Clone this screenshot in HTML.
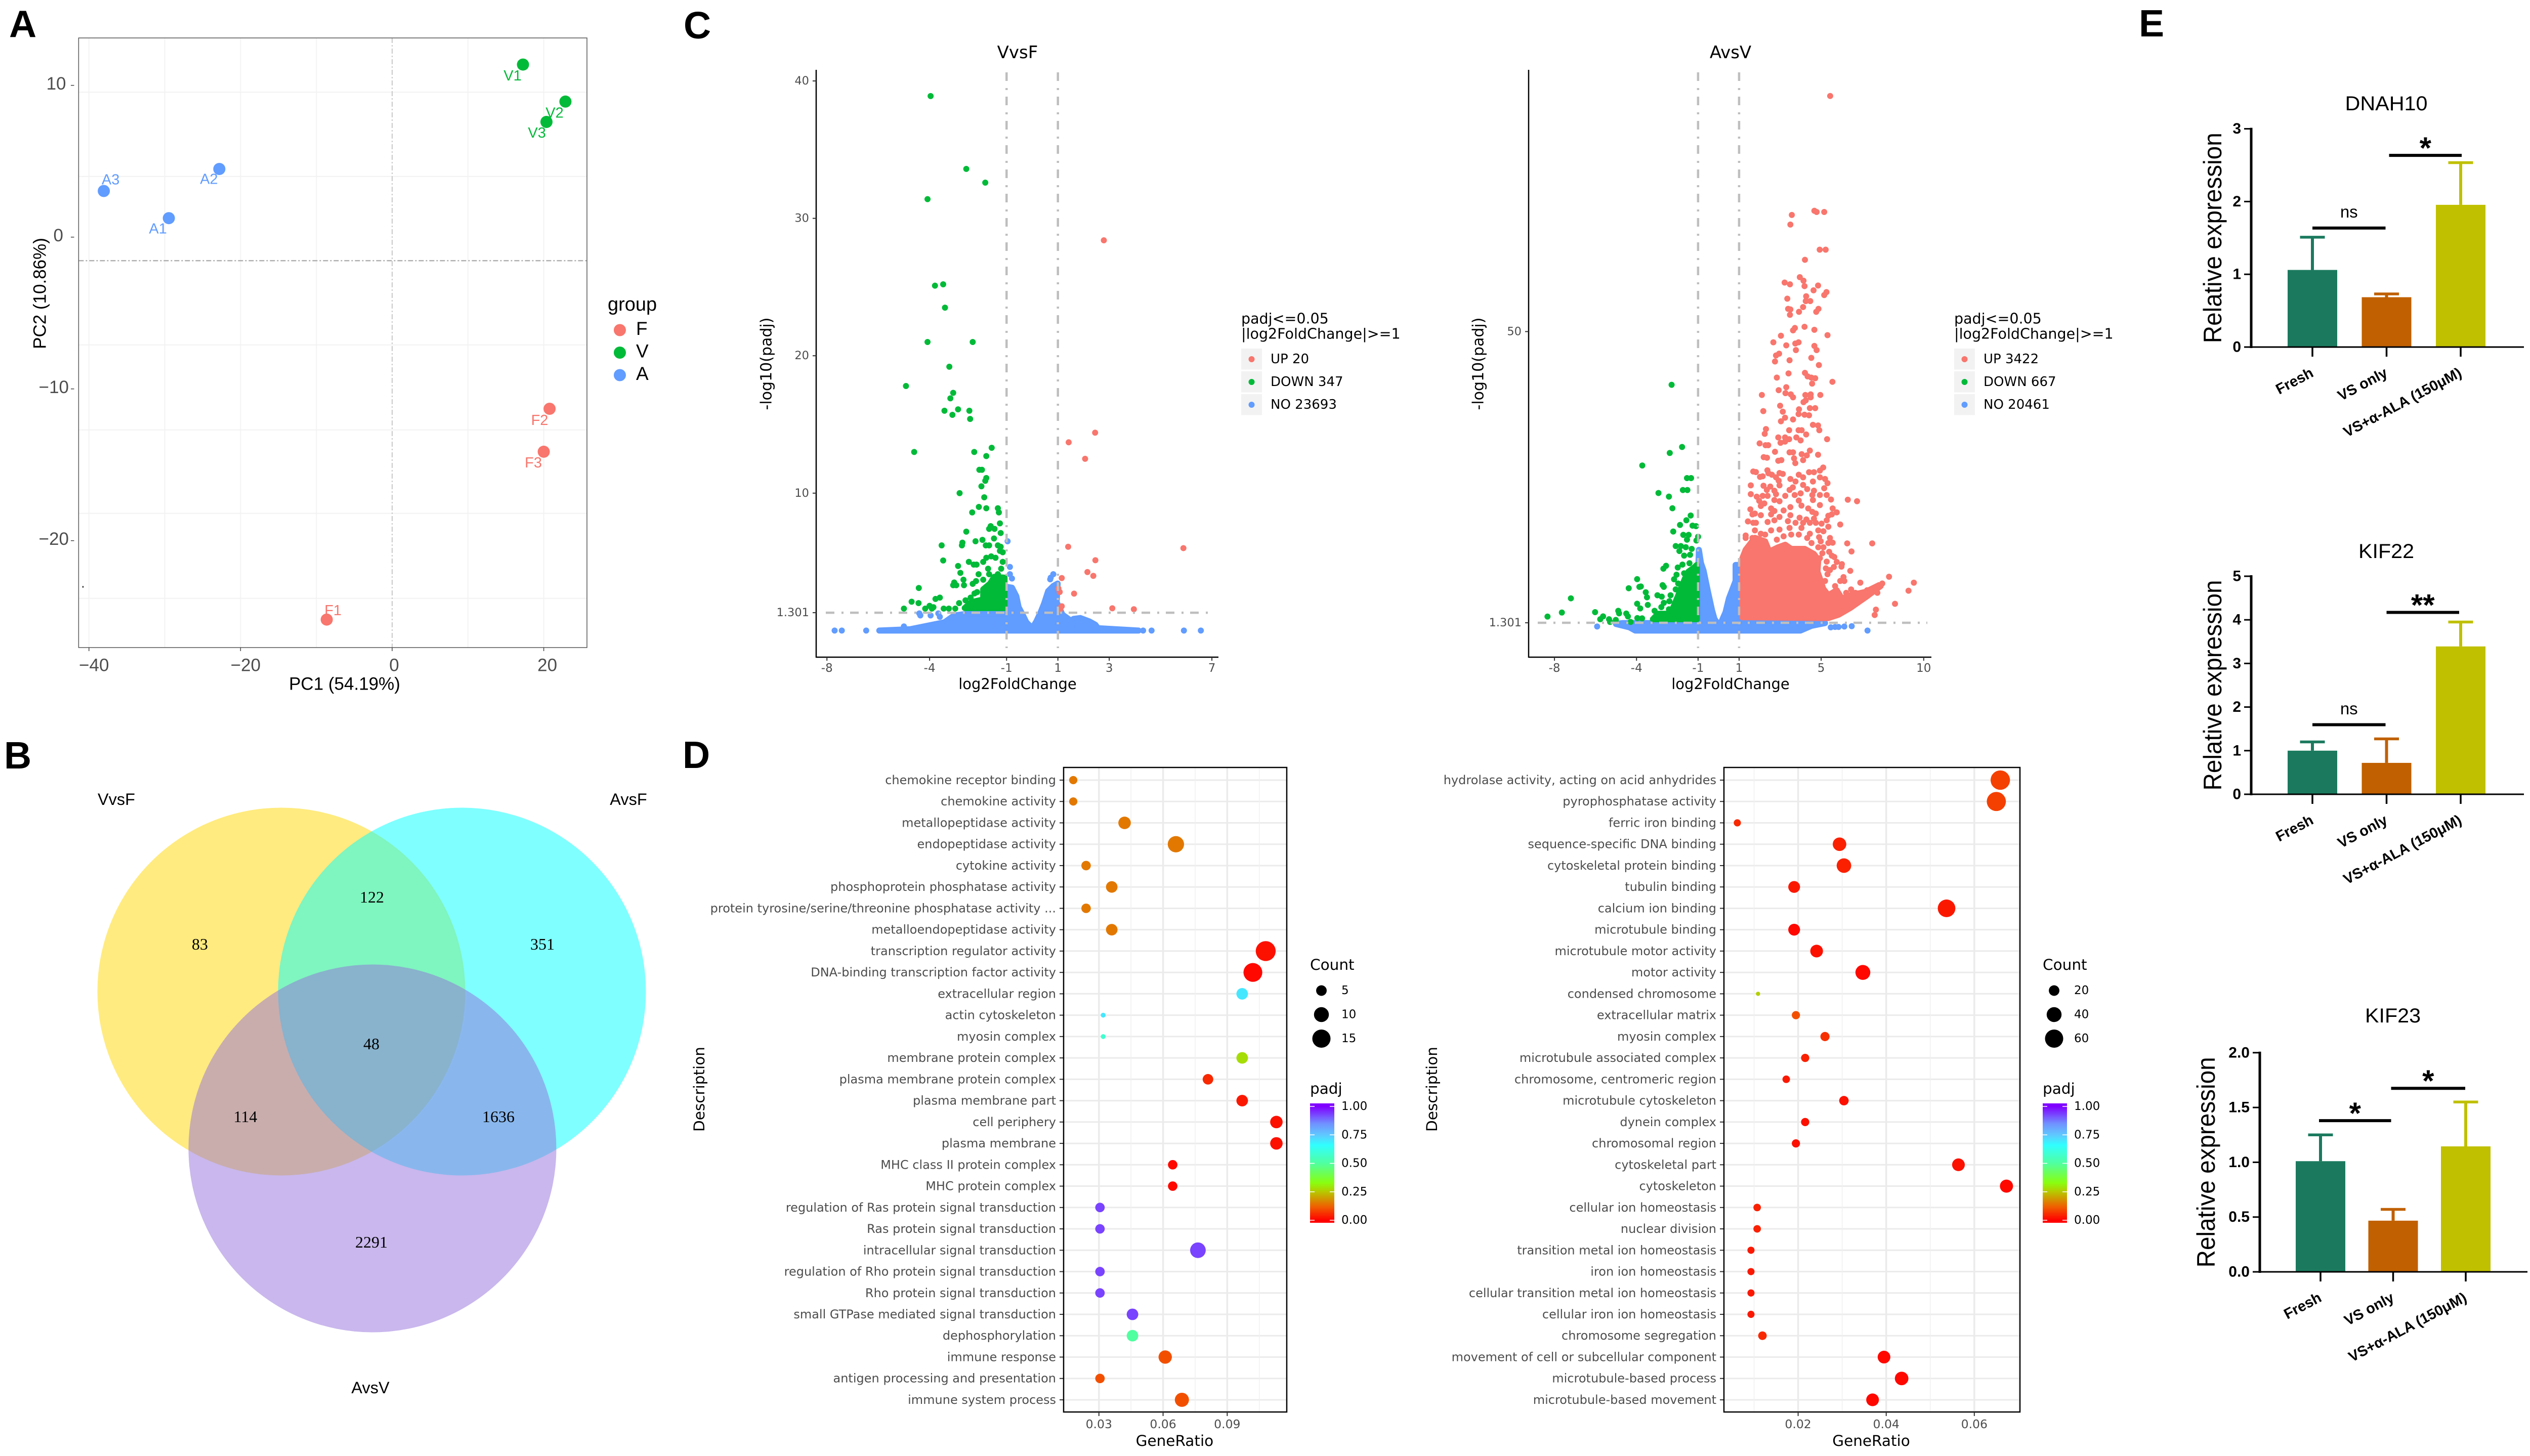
<!DOCTYPE html>
<html lang="en">
<head>
<meta charset="utf-8">
<title>Transcriptome analysis figure</title>
<style>
html,body{margin:0;padding:0;background:#fff;}
svg{display:block;}
</style>
</head>
<body>
<svg id="figure" xmlns="http://www.w3.org/2000/svg" width="5012" height="2878" viewBox="0 0 5012 2878">
<rect x="0" y="0" width="5012" height="2878" fill="#ffffff"></rect>
<defs id="defs"></defs>
</svg>
<script>
/* ---------- Panel A: PCA ---------- */
const pcaNames = ['F1','F2','F3','V1','V2','V3','A1','A2','A3'];
const pcaGroups = ['F','F','F','V','V','V','A','A','A'];
const pcaPc1 = [-8.63,20.77,20.0,17.26,22.86,20.36,-29.46,-22.8,-38.04];
const pcaPc2 = [-25.2,-11.31,-14.14,11.37,8.93,7.59,1.25,4.49,3.04];
const pcaLabelPc1 = [-7.8,19.46,18.63,15.89,21.43,19.1,-30.9,-24.17,-37.14];
const pcaLabelPc2 = [-24.61,-12.08,-14.88,10.63,8.18,6.85,0.54,3.81,3.78];
const pcaXTicks = [-40,-20,0,20];
const pcaYTicks = [10,0,-10,-20];
const pcaXGrid = [-40,-30,-20,-10,10,20];
const pcaYGrid = [9.55,4.0,-7.1,-12.7,-18.2,-23.8];
const pcaLegend = ['F','V','A'];

/* ---------- Panel B: Venn ---------- */
const vennSets = ['VvsF','AvsF','AvsV'];
const vennCounts = ['83','122','351','48','114','1636','2291'];

/* ---------- Panel C: volcano VvsF ---------- */
const volcano1Up = [[2.79,28.4],[2.45,14.4],[1.42,13.7],[2.06,12.5],[5.89,6.0],[1.40,6.1],[2.46,5.12],[2.15,4.26],[2.38,3.98],[1.15,3.82],[1.02,3.06],[1.07,2.81],[1.63,2.69],[1.15,1.77],[1.12,1.7],[1.08,1.52],[3.12,1.62],[3.96,1.55]];
const volcano1UpDense = [];
const volcano1Down = [[-3.96,38.9],[-2.57,33.6],[-1.83,32.6],[-4.08,31.4],[-3.79,25.1],[-3.47,25.2],[-3.40,23.5],[-4.08,21.0],[-2.32,21.0],[-3.23,19.2],[-4.92,17.8],[-3.08,17.3],[-3.19,16.9],[-3.42,16.0],[-2.89,16.1],[-2.45,16.0],[-3.11,15.7],[-2.42,15.4],[-4.60,13.0],[-2.26,13.0],[-1.58,13.3],[-1.79,12.7],[-2.06,11.7],[-1.96,11.7],[-1.79,11.1],[-1.83,10.9],[-1.98,10.5],[-2.83,10.0],[-1.87,9.7],[-2.08,9.0],[-2.34,8.6],[-1.79,8.9],[-1.34,8.9],[-1.30,8.6],[-1.26,7.8],[-1.62,7.6],[-1.68,7.4],[-1.47,7.4],[-1.23,7.1],[-2.57,7.2],[-1.49,6.7],[-1.94,6.6],[-2.21,6.5],[-2.72,6.4],[-2.74,6.2],[-3.53,6.2],[-1.81,6.2],[-1.68,6.2],[-1.34,6.2],[-1.23,6.1],[-1.26,5.8],[-1.15,5.7],[-3.47,5.1],[-1.60,5.4],[-1.43,5.3],[-1.79,5.3],[-1.91,5.0],[-2.47,5.0],[-2.28,4.8],[-2.17,4.8],[-2.89,4.7],[-1.15,5.0],[-1.21,4.5],[-1.72,4.5],[-2.80,4.2],[-2.09,4.1],[-1.68,4.1],[-1.34,4.1],[-1.91,3.7],[-2.68,3.7],[-2.19,3.6],[-3.04,3.5],[-3.08,3.3],[-2.96,3.3],[-2.66,3.3],[-2.32,3.4],[-4.42,3.1],[-2.15,2.8],[-2.25,2.7],[-3.60,2.4],[-3.77,2.3],[-4.70,2.1],[-4.43,2.0],[-4.0,1.8],[-3.85,1.7],[-5.0,1.6],[-4.17,1.6],[-3.91,1.6],[-3.45,1.6],[-3.25,1.6],[-3.0,1.6],[-2.85,2.0],[-2.6,2.2],[-2.4,2.4]];
const volcano1DownDense = [[-2.63,1.64],[-2.37,2.07],[-1.91,2.26],[-1.91,3.0],[-1.64,3.42],[-1.48,3.91],[-1.08,3.85],[-1.08,1.64]];
const volcano1None = [[-0.96,6.5],[-0.87,4.63],[-0.87,4.1],[-0.79,3.79],[0.82,4.1],[0.72,3.85],[0.7,3.73],[-4.4,1.25],[-4.36,1.1],[-3.96,1.1],[-3.66,1.25],[-3.6,1.0],[-3.32,0.6],[-5.0,0.3],[-7.70,0],[-7.42,0],[-6.47,0],[4.32,0],[4.65,0],[5.91,0],[6.57,0]];
const volcano1NoneDense = [[-5.96,0],[-4.74,0.1],[-3.42,0.6],[-3.04,1.1],[-2.47,1.24],[-1,1.24],[-0.99,3.18],[-0.79,3.12],[-0.62,2.5],[-0.53,1.7],[-0.39,1.21],[-0.23,0.6],[0,0.17],[0.16,0.66],[0.33,1.34],[0.46,1.95],[0.62,2.87],[0.82,3.24],[0.99,3.42],[0.95,2.07],[1.18,1.15],[1.45,0.79],[1.51,0.23],[1.61,0.85],[1.87,0.91],[2.23,0.66],[2.46,0.42],[2.56,0.17],[4.14,0]];
const volcano1XTicks = [-8,-4,-1,1,3,7];
const volcano1YTicks = ['40','30','20','10','1.301'];
const volcano1Legend = ['UP 20','DOWN 347','NO 23693'];

/* ---------- Panel C: volcano AvsV ---------- */
const volcano2Up = [[5.44,89.4],[4.67,70.2],[4.78,70.0],[5.15,70.0],[3.57,69.5],[3.50,67.9],[4.93,63.7],[5.22,63.7],[4.21,62.0],[3.96,59.1],[4.14,58.5],[3.22,58.2],[3.48,57.9],[4.19,57.6],[4.85,57.7],[4.63,56.9],[5.26,56.6],[5.15,56.1],[4.27,55.9],[3.35,55.5],[4.25,55.1],[4.47,55.1],[4.12,54.1],[3.39,53.8],[3.5,53.7],[4.87,53.8],[4.76,53.3],[3.92,53.3],[3.48,52.8],[4.19,50.8],[3.72,50.6],[3.63,50.2],[4.67,50.3],[5.31,49.4],[3.04,49.3],[2.67,48.2],[3.74,48.0],[3.9,48.2],[3.30,47.7],[4.67,47.6],[4.78,46.9],[3.77,46.9],[2.95,46.3],[2.80,46.0],[2.75,45.0],[3.46,45.2],[4.52,45.6],[4.89,44.4],[3.41,43.0],[4.21,43.1],[4.34,42.5],[2.84,42.3],[4.52,42.3],[4.71,42.2],[4.56,41.3],[5.55,41.6],[2.93,40.2],[3.30,40.7],[3.26,39.7],[2.11,39.4],[3.52,39.5],[3.63,39.0],[4.23,39.4],[4.49,39.5],[4.49,39.0],[4.96,39.4],[4.14,38.2],[4.25,38.5],[3.0,37.6],[2.18,36.7],[4.45,37.2],[4.71,37.2],[3.92,37.0],[3.9,36.2],[3.13,36.6],[3.24,35.6],[3.04,35.0],[3.63,35.3],[4.19,36.1],[4.41,36.0],[4.6,34.4],[4.85,34.3],[2.31,33.7],[2.25,32.9],[3.44,33.5],[3.9,33.5],[4.05,33.5],[4.27,32.8],[4.91,33.5],[2.91,32.3],[3.24,32.3],[3.02,31.4],[3.24,31.6],[3.44,32],[3.79,32.3],[4.0,31.8],[5.29,32.0],[2.0,31.3],[2.29,31],[2.42,31],[3.63,29.8],[3.46,29.8],[4.05,29.5],[4.45,30.1],[4.30,29.3],[4.85,29.4],[2.75,29.9],[2.2,29],[2.36,28.9],[2.91,28.4],[3.06,28.5],[3.68,28.8],[4.12,28.5],[3.74,28.0],
[1.69,26.6],[1.82,26.5],[2.02,25.7],[2.15,25.8],[2.38,26.8],[2.43,26.3],[2.6,26.06],[2.97,26.34],[3.13,26.2],[2.8,25.63],[2.93,25.07],[2.97,24.28],[3.5,25.35],[3.91,26.06],[4.12,25.63],[4.41,26.48],[4.65,26.48],[4.94,26.76],[5.1,27.27],[4.94,25.63],[5.19,25.35],[5.31,24.65],[4.6,24.93],[4.12,24.36],[3.75,24.93],[3.62,23.94],[1.57,24.28],[2.19,24.22],[2.52,24.08],[2.35,23.52],[2.72,23.38],[3.46,23.52],[4.32,23.66],[4.65,23.38],[5.15,23.8],[1.57,22.81],[1.86,22.39],[2.15,22.53],[2.39,22.53],[2.8,22.81],[3.25,22.53],[3.71,22.67],[4.0,22.95],[4.57,22.67],[4.94,22.67],[5.27,22.67],[5.48,21.91],[2.72,21.83],[2.97,21.63],[3.91,21.74],[4.6,21.83],[6.3,21.88],[6.75,21.63],[1.98,21.69],[2.23,21.26],[4.94,20.98],[4.04,20.9],[3.5,20.64],[3.17,20.08],[1.55,20.28],[2.06,20.84],[2.56,20.42],[2.72,20.0],[4.37,20.42],[4.57,19.85],[4.74,19.57],[5.56,20.42],[5.76,19.77],[5.35,19.2],[5.52,19.43],[1.77,19.57],[2.06,19.29],[1.65,19.43],[2.56,19.43],[2.97,19.0],[3.5,19.29],[3.95,18.87],[4.28,18.58],[4.65,18.72],[5.27,18.44],[1.43,18.25],[1.69,18.02],[1.82,18.02],[2.39,18.16],[2.72,18.44],[3.38,18.3],[3.75,18.02],[4.12,18.02],[4.45,18.02],[4.74,18.02],[5.02,17.88],[5.93,17.74],[5.35,17.37],[4.86,16.75],[5.11,16.61],[2.56,16.75],[2.97,16.89],[3.46,17.17],[4.04,17.17],[1.77,16.75],[2.06,16.19],[2.27,16.05],[1.32,15.9],[1.32,15.48],[2.84,15.2],[3.17,15.76],[3.54,16.05],[3.91,16.05],[4.45,16.19],[4.9,15.62],[5.43,15.48],[4.98,14.92],[4.32,15.48],[4.53,14.64],[5.35,14.64],[5.56,14.69],[6.27,14.58],[7.49,14.58],[1.65,15.48],[4.86,13.93],[5.11,13.93],[5.39,13.17],[6.48,13.23],[5.52,12.52],[5.64,12.3],[5.06,12.94],[4.94,12.1],[5.76,11.48],[5.27,11.53],[6.01,11.11],[5.99,10.69],[5.62,10.63],[5.23,10.41],[5.43,10.12],[5.31,9.42],[6.42,9.98],[6.09,8.94],[6.13,8.29],[5.19,8.29],[5.93,8.29],[5.68,7.44],[6.91,8.01],[8.31,9.0],[9.52,8.01],[9.26,6.66],[8.6,4.48],[7.67,3.5],[7.61,2.6],[6.46,6.88],[5.89,6.03],[6.22,6.31],[6.67,6.31],[7.24,6.74],[7.74,6.32],[7.98,7.87],[7.45,6.6]];
const volcano2UpDense = [[1.16,2.23],[1.16,12.1],[1.32,13.5],[1.77,15.5],[2.27,14.9],[2.47,13.2],[2.89,13.9],[3.25,14.35],[3.54,13.65],[4.2,13.65],[4.65,12.8],[4.86,11.8],[4.82,9.84],[4.94,8.7],[5.1,7.0],[5.35,5.9],[5.76,6.74],[6.01,5.33],[6.42,5.9],[7.16,6.46],[7.82,7.59],[7.9,7.45],[7.24,5.75],[6.42,3.78],[5.85,2.65],[5.35,2.09]];
const volcano2Down = [[-2.29,41.1],[-1.78,30.7],[-2.38,29.7],[-3.72,27.6],[-1.54,25.5],[-1.34,25.5],[-2.93,23],[-1.74,23.5],[-1.52,23.5],[-2.42,22.4],[-2.25,20.45],[-1.36,19.24],[-1.57,18.45],[-1.88,17.66],[-1.27,17.55],[-1.1,17.46],[-2.21,16.56],[-1.72,16.0],[-1.46,16.0],[-1.54,15.2],[-1.0,15.7],[-1.08,15.06],[-2.09,14.13],[-1.84,14.13],[-1.91,13.3],[-1.6,13.94],[-1.31,13.66],[-1.68,12.53],[-1.39,12.67],[-1.42,11.26],[-1.76,11.03],[-1.99,10.55],[-2.56,10.83],[-2.69,10.35],[-2.05,9.34],[-2.17,8.58],[-1.68,9.57],[-3.97,8.6],[-4.38,7.08],[-3.86,7.31],[-3.79,7.37],[-2.73,7.59],[-2.67,7.31],[-1.97,7.87],[-2.09,6.89],[-3.55,6.4],[-3.49,5.56],[-2.98,5.9],[-2.77,5.67],[-2.34,5.9],[-2.4,4.91],[-3.97,4.49],[-3.45,4.29],[-3.82,3.7],[-2.67,4.63],[-2.79,3.93],[-2.42,3.56],[-3.12,3.3],[-4.89,3.3],[-4.85,2.88],[-4.5,2.85],[-4.42,2.37],[-6.02,3.08],[-5.63,2.37],[-5.77,1.89],[-5.34,1.89],[-5.29,1.44],[-5.01,1.78],[-7.2,5.39],[-7.64,3.02],[-8.34,2.34],[-3.96,2.09],[-3.73,2.04],[-4.29,1.44]];
const volcano2DownDense = [[-3.2,1.9],[-2.95,2.8],[-2.34,2.8],[-2.17,4.2],[-2.0,5.6],[-1.84,7.0],[-1.64,8.7],[-1.47,9.85],[-1.19,10.55],[-1.06,10.97],[-1.06,1.9]];
const volcano2None = [[-5.92,0.68],[5.47,0.54],[5.68,0.6],[5.85,0.6],[6.13,0.68],[6.49,0.73],[7.26,0]];
const volcano2NoneDense = [[-4.06,0],[-4.35,0.55],[-5.0,1.1],[-4.68,1.25],[-4.02,1.25],[-1.06,1.25],[-0.96,13.5],[-0.86,11.3],[-0.73,10],[-0.53,6.7],[-0.32,3.4],[-0.2,1.95],[0.02,0.8],[0.09,1.1],[0.34,3.07],[0.5,5.33],[0.83,8.3],[0.83,10.97],[1,10.97],[1,1.25],[5.19,1.25],[4.53,0.8],[3.99,0]];
const volcano2XTicks = [-8,-4,-1,1,5,10];
const volcano2YTicks = ['50','1.301'];
const volcano2Legend = ['UP 3422','DOWN 667','NO 20461'];

/* ---------- Panel D: enrichment dot plots ---------- */
const dot1Terms = ['chemokine receptor binding','chemokine activity','metallopeptidase activity','endopeptidase activity','cytokine activity','phosphoprotein phosphatase activity','protein tyrosine/serine/threonine phosphatase activity ...','metalloendopeptidase activity','transcription regulator activity','DNA-binding transcription factor activity','extracellular region','actin cytoskeleton','myosin complex','membrane protein complex','plasma membrane protein complex','plasma membrane part','cell periphery','plasma membrane','MHC class II protein complex','MHC protein complex','regulation of Ras protein signal transduction','Ras protein signal transduction','intracellular signal transduction','regulation of Rho protein signal transduction','Rho protein signal transduction','small GTPase mediated signal transduction','dephosphorylation','immune response','antigen processing and presentation','immune system process'];
const dot1Ratio = [0.018,0.018,0.042,0.066,0.024,0.036,0.024,0.036,0.108,0.102,0.097,0.032,0.032,0.097,0.081,0.097,0.113,0.113,0.0645,0.0645,0.0305,0.0305,0.0763,0.0305,0.0305,0.0457,0.0457,0.061,0.0305,0.0688];
const dot1Count = [3,3,7,12,4,6,4,6,18,16,6,1,1,6,5,6,7,7,4,4,4,4,11,4,4,6,6,8,4,9];
const dot1Padj = [0.15,0.15,0.15,0.15,0.15,0.15,0.15,0.15,0.02,0.01,0.70,0.70,0.58,0.28,0.05,0.03,0.02,0.02,0.01,0.01,0.93,0.93,0.93,0.93,0.93,0.93,0.5,0.1,0.1,0.1];
const dot1XTicks = [0.03,0.06,0.09];
const dot1XMinor = [0.045,0.075,0.105];
const dot1CountLegend = [5,10,15];

const dot2Terms = ['hydrolase activity, acting on acid anhydrides','pyrophosphatase activity','ferric iron binding','sequence-specific DNA binding','cytoskeletal protein binding','tubulin binding','calcium ion binding','microtubule binding','microtubule motor activity','motor activity','condensed chromosome','extracellular matrix','myosin complex','microtubule associated complex','chromosome, centromeric region','microtubule cytoskeleton','dynein complex','chromosomal region','cytoskeletal part','cytoskeleton','cellular ion homeostasis','nuclear division','transition metal ion homeostasis','iron ion homeostasis','cellular transition metal ion homeostasis','cellular iron ion homeostasis','chromosome segregation','movement of cell or subcellular component','microtubule-based process','microtubule-based movement'];
const dot2Ratio = [0.0659,0.0650,0.0062,0.0294,0.0304,0.0191,0.0537,0.0191,0.0242,0.0347,0.0109,0.0195,0.0261,0.0216,0.0173,0.0304,0.0216,0.0195,0.0564,0.0673,0.0107,0.0107,0.0093,0.0093,0.0093,0.0093,0.0119,0.0395,0.0435,0.0369];
const dot2Count = [68,66,9,33,38,25,56,25,29,40,3,12,15,12,10,16,12,12,29,31,10,10,9,9,9,9,13,29,33,29];
const dot2Padj = [0.08,0.08,0.05,0.04,0.04,0.03,0.03,0.01,0.02,0.01,0.26,0.1,0.06,0.04,0.03,0.02,0.02,0.02,0.02,0.01,0.04,0.04,0.03,0.03,0.03,0.03,0.05,0.01,0.01,0.01];
const dot2XTicks = [0.02,0.04,0.06];
const dot2XMinor = [0.01,0.03,0.05,0.07];
const dot2CountLegend = [20,40,60];

const padjTicks = ['1.00','0.75','0.50','0.25','0.00'];
const padjStopValues = [0,0.12,0.25,0.33,0.5,0.66,0.75,0.85,1];
const padjStopColors = ['#ff0000','#ef6000','#b8c800','#88ff10','#50ffa0','#30ffff','#60c8ff','#7090ff','#8000ff'];

/* ---------- Panel E: qPCR bars ---------- */
const barGroups = ['Fresh','VS only','VS+α-ALA (150μM)'];
const barColors = ['#1b7a5e','#c06000','#c0c000'];
const dnah10Mean = [1.06,0.685,1.955];
const dnah10Err = [1.51,0.73,2.535];
const dnah10Ticks = [0,1,2,3];
const kif22Mean = [1.0,0.72,3.39];
const kif22Err = [1.2,1.27,3.95];
const kif22Ticks = [0,1,2,3,4,5];
const kif23Mean = [1.01,0.467,1.145];
const kif23Err = [1.25,0.57,1.55];
const kif23Ticks = [0,0.5,1,1.5,2];

/* ---------- helpers ---------- */
const NS = 'http://www.w3.org/2000/svg';
const root = document.getElementById('figure');
const SANS = '"Liberation Sans", sans-serif';
const SERIF = '"Liberation Serif", serif';
const DEJAVU = '"DejaVu Sans", sans-serif';

function mk(parent, tag, attrs, name) {
  const el = document.createElementNS(NS, tag);
  for (const k in attrs) el.setAttribute(k, attrs[k]);
  
  
  parent.appendChild(el);
  return el;
}
function group(name) {
  const el = document.createElementNS(NS, 'g');
  
  
  root.appendChild(el);
  return el;
}
function txt(parent, x, y, str, o, name) {
  const a = {x: x, y: y, fill: o.fill || '#000', 'font-family': o.family || SANS, 'font-size': o.size, 'text-anchor': o.anchor || 'middle'};
  if (o.central !== false) a['dominant-baseline'] = 'central';
  if (o.weight) a['font-weight'] = o.weight;
  if (o.rotate !== undefined) a.transform = 'rotate(' + o.rotate + ' ' + x + ' ' + y + ')';
  if (o.length) { a.textLength = o.length; a.lengthAdjust = 'spacingAndGlyphs'; }
  const el = mk(parent, 'text', a, name);
  el.textContent = str;
  return el;
}
function line(parent, x1, y1, x2, y2, stroke, w, name, dash) {
  const a = {x1: x1, y1: y1, x2: x2, y2: y2, stroke: stroke, 'stroke-width': w};
  if (dash) a['stroke-dasharray'] = dash;
  return mk(parent, 'line', a, name);
}
function hexToRgb(h) { return [parseInt(h.substr(1,2),16), parseInt(h.substr(3,2),16), parseInt(h.substr(5,2),16)]; }
function padjColor(v) {
  let i = 0;
  while (i < padjStopValues.length - 2 && v > padjStopValues[i + 1]) i++;
  const t = Math.max(0, Math.min(1, (v - padjStopValues[i]) / (padjStopValues[i + 1] - padjStopValues[i])));
  const a = hexToRgb(padjStopColors[i]), b = hexToRgb(padjStopColors[i + 1]);
  return 'rgb(' + a.map((c, n) => Math.round(c + (b[n] - c) * t)).join(',') + ')';
}

/* ---------- panel letters ---------- */
const lettersGroup = group('panel-letters');
[['A',18,73],['B',8,1519],['C',1351,76],['D',1349,1518],['E',4227,72]].forEach(function (p) {
  txt(lettersGroup, p[1], p[2], p[0], {size: 75, weight: 'bold', anchor: 'start', central: false}, 'panel-letter');
});

/* ---------- Panel A ---------- */
(function () {
  const g = group('pca-plot');
  const left = 155.4, right = 1160, top = 75, bottom = 1280;
  const sx = v => 775 + v * 14.98;
  const sy = v => 468.7 - v * 30;
  const colors = {F: '#F8766D', V: '#00BA38', A: '#619CFF'};
  mk(g, 'rect', {x: left, y: top, width: right - left, height: bottom - top, fill: '#fff'}, 'pca-panel-background');
  pcaXGrid.forEach(v => line(g, sx(v), top, sx(v), bottom, '#f3f3f3', 2, 'pca-vertical-gridline'));
  pcaYGrid.forEach(v => line(g, left, sy(v), right, sy(v), '#f2f2f2', 2, 'pca-horizontal-gridline'));
  line(g, sx(0), top, sx(0), bottom, '#c8c8c8', 2, 'pca-zero-vertical-line', '10 4 3 4');
  line(g, left, sy(-1.55), right, sy(-1.55), '#b0b0b0', 2.5, 'pca-dashed-horizontal-line', '10 4 3 4');
  mk(g, 'rect', {x: left, y: top, width: right - left, height: bottom - top, fill: 'none', stroke: '#555', 'stroke-width': 1.5}, 'pca-panel-border');
  line(g, 163, 1160, 165, 1160, '#000', 3, 'pca-stray-tick');
  pcaXTicks.forEach(v => {
    const s = String(v).replace('-', '−');
    line(g, sx(v), bottom, sx(v), bottom + 7, '#444', 1.5, 'pca-x-tick');
    txt(g, sx(v) + 4 + 3 * (s.length - 1), 1315, s, {size: 35, fill: '#4d4d4d'}, 'pca-x-tick-label');
  });
  pcaYTicks.forEach(v => {
    const s = String(v).replace('-', '−');
    line(g, 140, sy(v), 146.5, sy(v), '#444', 1.5, 'pca-y-tick');
    txt(g, 125 + 5.5 * (s.length - 1), sy(v) - 3, s, {size: 35, fill: '#4d4d4d', anchor: 'end'}, 'pca-y-tick-label');
  });
  pcaNames.forEach((n, i) => {
    mk(g, 'circle', {cx: sx(pcaPc1[i]), cy: sy(pcaPc2[i]), r: 12, fill: colors[pcaGroups[i]]}, 'pca-point');
    txt(g, sx(pcaLabelPc1[i]), sy(pcaLabelPc2[i]), n, {size: 29, fill: colors[pcaGroups[i]]}, 'pca-point-label');
  });
  txt(g, 681, 1352, 'PC1 (54.19%)', {size: 35}, 'pca-x-axis-title');
  txt(g, 79, 580, 'PC2 (10.86%)', {size: 35, rotate: -90}, 'pca-y-axis-title');
  txt(g, 1201, 602, 'group', {size: 38, anchor: 'start'}, 'pca-legend-title');
  pcaLegend.forEach((n, i) => {
    const y = 652.5 + i * 44.5;
    mk(g, 'circle', {cx: 1225, cy: y, r: 12, fill: colors[n]}, 'pca-legend-dot');
    txt(g, 1257, y - 3, n, {size: 37, anchor: 'start'}, 'pca-legend-label');
  });
})();

/* ---------- Panel B ---------- */
(function () {
  const g = group('venn-diagram');
  mk(g, 'circle', {cx: 556, cy: 1960, r: 363.5, fill: '#ffd700', 'fill-opacity': 0.5}, 'venn-circle-vvsf');
  mk(g, 'circle', {cx: 913, cy: 1960, r: 363.5, fill: '#00ffff', 'fill-opacity': 0.5}, 'venn-circle-avsf');
  mk(g, 'circle', {cx: 736, cy: 2270, r: 363.5, fill: '#9370db', 'fill-opacity': 0.5}, 'venn-circle-avsv');
  txt(g, 230, 1580, vennSets[0], {size: 32.5}, 'venn-set-label');
  txt(g, 1242, 1580, vennSets[1], {size: 32.5}, 'venn-set-label');
  txt(g, 732, 2743, vennSets[2], {size: 32.5}, 'venn-set-label');
  const spots = [[395,1866],[735,1773],[1072,1866],[734,2063],[485,2207],[985,2207],[734,2455]];
  vennCounts.forEach((c, i) => txt(g, spots[i][0], spots[i][1], c, {size: 32, family: SERIF}, 'venn-count'));
})();

/* ---------- Panel C ---------- */
function volcano(c) {
  const g = group(c.name);
  const sx = v => c.x0 + v * c.kx;
  const sy = v => c.y0 - v * c.ky;
  const R = 6;
  const cols = {up: '#F8766D', down: '#00BA38', none: '#619CFF'};
  function cloud(poly, pts, col, n1, n2) {
    if (poly.length) {
      mk(g, 'polygon', {points: poly.map(p => sx(p[0]) + ',' + sy(p[1])).join(' '), fill: col, stroke: col, 'stroke-width': R * 2, 'stroke-linejoin': 'round'}, n1);
    }
    pts.forEach(p => mk(g, 'circle', {cx: sx(p[0]), cy: sy(p[1]), r: R, fill: col}, n2));
  }
  cloud(c.noneDense, c.none, cols.none, 'volcano-ns-dense-cloud', 'volcano-ns-point');
  cloud(c.upDense, c.up, cols.up, 'volcano-up-dense-cloud', 'volcano-up-point');
  cloud(c.downDense, c.down, cols.down, 'volcano-down-dense-cloud', 'volcano-down-point');
  const dash = '17 14 4 13';
  line(g, sx(-1), 143, sx(-1), 1281, '#bebebe', 4.5, 'volcano-threshold-line', dash);
  line(g, sx(1), 143, sx(1), 1281, '#bebebe', 4.5, 'volcano-threshold-line', dash);
  line(g, c.hFrom, sy(1.301), c.hTo, sy(1.301), '#bebebe', 4.5, 'volcano-significance-line', dash);
  line(g, c.left, 138, c.left, 1300, '#000', 2.5, 'volcano-y-axis');
  line(g, c.left, 1299, c.right, 1299, '#000', 2.5, 'volcano-x-axis');
  c.xTicks.forEach(v => {
    line(g, sx(v), 1299, sx(v), 1306, '#333', 2, 'volcano-x-tick');
    txt(g, sx(v), 1321, String(v), {size: 23, fill: '#4d4d4d', family: DEJAVU}, 'volcano-x-tick-label');
  });
  c.yTicks.forEach(s => {
    const v = parseFloat(s);
    line(g, c.left - 7, sy(v), c.left, sy(v), '#333', 2, 'volcano-y-tick');
    txt(g, c.left - 14, sy(v), s, {size: 22.5, fill: '#4d4d4d', family: DEJAVU, anchor: 'end'}, 'volcano-y-tick-label');
  });
  txt(g, c.cx, 104, c.title, {size: 34, family: DEJAVU}, 'volcano-title');
  txt(g, c.cx, 1352, 'log2FoldChange', {size: 29, family: DEJAVU}, 'volcano-x-axis-title');
  txt(g, c.ylabX, 719, '-log10(padj)', {size: 30, family: DEJAVU, rotate: -90}, 'volcano-y-axis-title');
  txt(g, c.legX, 630, 'padj<=0.05', {size: 28.5, family: DEJAVU, anchor: 'start'}, 'volcano-legend-title');
  txt(g, c.legX, 660, '|log2FoldChange|>=1', {size: 28.5, family: DEJAVU, anchor: 'start'}, 'volcano-legend-title');
  const keyCols = [cols.up, cols.down, cols.none];
  c.legend.forEach((s, i) => {
    const y = 689 + i * 45;
    mk(g, 'rect', {x: c.legX, y: y, width: 41, height: 41.5, fill: '#f2f2f2'}, 'volcano-legend-key');
    mk(g, 'circle', {cx: c.legX + 20.5, cy: y + 21, r: R, fill: keyCols[i]}, 'volcano-legend-dot');
    txt(g, c.legX + 58, y + 21, s, {size: 26, family: DEJAVU, anchor: 'start'}, 'volcano-legend-label');
  });
}
volcano({name: 'volcano-vvsf', title: 'VvsF', x0: 2040, kx: 50.72, y0: 1246.4, ky: 27.16, left: 1613, right: 2408, hFrom: 1632, hTo: 2398, cx: 2011, ylabX: 1515, legX: 2453, up: volcano1Up, upDense: volcano1UpDense, down: volcano1Down, downDense: volcano1DownDense, none: volcano1None, noneDense: volcano1NoneDense, xTicks: volcano1XTicks, yTicks: volcano1YTicks, legend: volcano1Legend});
volcano({name: 'volcano-avsv', title: 'AvsV', x0: 3396.4, kx: 40.54, y0: 1246.4, ky: 11.82, left: 3021, right: 3817, hFrom: 3039, hTo: 3809, cx: 3420, ylabX: 2922, legX: 3862, up: volcano2Up, upDense: volcano2UpDense, down: volcano2Down, downDense: volcano2DownDense, none: volcano2None, noneDense: volcano2NoneDense, xTicks: volcano2XTicks, yTicks: volcano2YTicks, legend: volcano2Legend});

/* ---------- Panel D ---------- */
(function () {
  const defs = document.getElementById('defs');
  const grad = document.createElementNS(NS, 'linearGradient');
  grad.setAttribute('id', 'padjGradient');
  grad.setAttribute('x1', '0'); grad.setAttribute('y1', '1'); grad.setAttribute('x2', '0'); grad.setAttribute('y2', '0');
  padjStopValues.forEach((v, i) => {
    const st = document.createElementNS(NS, 'stop');
    st.setAttribute('offset', (v * 225 + 5) / 236);
    st.setAttribute('stop-color', padjStopColors[i]);
    grad.appendChild(st);
  });
  defs.appendChild(grad);
})();
function dotPlot(c) {
  const g = group(c.name);
  const top = 1517, bottom = 2791;
  const sx = v => c.x0 + v * c.kx;
  const sy = i => 1542 + i * 42.24;
  const rad = n => Math.sqrt(2 + 27 * n * c.countScale) / 1.12;
  c.terms.forEach((t, i) => line(g, c.left, sy(i), c.right, sy(i), '#ebebeb', 3, 'dot-horizontal-gridline'));
  c.xMinor.forEach(v => line(g, sx(v), top, sx(v), bottom, '#f0f0f0', 1.5, 'dot-minor-gridline'));
  c.xTicks.forEach(v => line(g, sx(v), top, sx(v), bottom, '#ebebeb', 3.5, 'dot-major-gridline'));
  c.terms.forEach((t, i) => {
    mk(g, 'circle', {cx: sx(c.ratio[i]), cy: sy(i), r: rad(c.count[i]), fill: padjColor(c.padj[i])}, 'dot-term-point');
    line(g, c.left - 8, sy(i), c.left, sy(i), '#333', 2, 'dot-y-tick');
    txt(g, c.left - 15, sy(i), t, {size: 24, fill: '#4d4d4d', family: DEJAVU, anchor: 'end'}, 'dot-term-label');
  });
  mk(g, 'rect', {x: c.left, y: top, width: c.right - c.left, height: bottom - top, fill: 'none', stroke: '#000', 'stroke-width': 2.5}, 'dot-panel-border');
  c.xTicks.forEach(v => {
    line(g, sx(v), bottom, sx(v), bottom + 8, '#333', 2, 'dot-x-tick');
    txt(g, sx(v), 2815, v.toFixed(2), {size: 23.5, fill: '#4d4d4d', family: DEJAVU}, 'dot-x-tick-label');
  });
  txt(g, c.cx, 2848, 'GeneRatio', {size: 29.5, family: DEJAVU}, 'dot-x-axis-title');
  txt(g, c.ylabX, 2153, 'Description', {size: 29.5, family: DEJAVU, rotate: -90}, 'dot-y-axis-title');
  txt(g, c.legX, 1907, 'Count', {size: 29.5, family: DEJAVU, anchor: 'start'}, 'dot-count-legend-title');
  c.legend.forEach((n, i) => {
    const y = 1958 + i * 47.5;
    mk(g, 'circle', {cx: c.legX + 22.5, cy: y, r: rad(n), fill: '#000'}, 'dot-count-legend-dot');
    txt(g, c.legX + 62, y, String(n), {size: 23, family: DEJAVU, anchor: 'start'}, 'dot-count-legend-label');
  });
  txt(g, c.legX, 2152, 'padj', {size: 29.5, family: DEJAVU, anchor: 'start'}, 'dot-padj-legend-title');
  mk(g, 'rect', {x: c.legX, y: 2181, width: 48, height: 236, fill: 'url(#padjGradient)'}, 'dot-padj-colorbar');
  padjTicks.forEach(s => {
    const y = 2412 - parseFloat(s) * 225;
    line(g, c.legX, y, c.legX + 9, y, '#fff', 1.5, 'dot-padj-colorbar-tick');
    line(g, c.legX + 39, y, c.legX + 48, y, '#fff', 1.5, 'dot-padj-colorbar-tick');
    txt(g, c.legX + 62, y, s, {size: 23, family: DEJAVU, anchor: 'start'}, 'dot-padj-legend-label');
  });
}
dotPlot({name: 'dotplot-left', terms: dot1Terms, ratio: dot1Ratio, count: dot1Count, padj: dot1Padj, xTicks: dot1XTicks, xMinor: dot1XMinor, legend: dot1CountLegend, countScale: 1, x0: 2045, kx: 4226, left: 2102, right: 2543, cx: 2321.4, ylabX: 1382, legX: 2589});
dotPlot({name: 'dotplot-right', terms: dot2Terms, ratio: dot2Ratio, count: dot2Count, padj: dot2Padj, xTicks: dot2XTicks, xMinor: dot2XMinor, legend: dot2CountLegend, countScale: 0.25, x0: 3379.5, kx: 8705, left: 3407, right: 3992, cx: 3698, ylabX: 2830, legX: 4037});

/* ---------- Panel E ---------- */
function barPanel(c) {
  const g = group(c.name);
  const sy = v => c.y0 - v * c.ky;
  const sx = i => c.xStart + i * c.xStep;
  barGroups.forEach((n, i) => {
    line(g, sx(i), sy(c.mean[i]), sx(i), sy(c.err[i]), barColors[i], 6, 'bar-error-stem');
    line(g, sx(i) - 24.5, sy(c.err[i]), sx(i) + 24.5, sy(c.err[i]), barColors[i], 5.5, 'bar-error-cap');
    mk(g, 'rect', {x: sx(i) - 49, y: sy(c.mean[i]), width: 98, height: c.y0 - sy(c.mean[i]), fill: barColors[i]}, 'bar-' + (i + 1));
    line(g, sx(i), c.y0, sx(i), c.y0 + 19, '#000', 3.5, 'bar-x-tick');
    txt(g, sx(i) + 4, c.y0 + 57, n, {size: 29, weight: 'bold', anchor: 'end', rotate: -28, central: false}, 'bar-x-tick-label');
  });
  const max = c.ticks[c.ticks.length - 1];
  line(g, c.axisX, sy(max) - 2, c.axisX, c.y0 + 2, '#000', 5, 'bar-y-axis');
  line(g, c.axisX, c.y0, c.axisEnd, c.y0, '#000', 3, 'bar-x-axis');
  c.ticks.forEach(v => {
    line(g, c.axisX - 14, sy(v), c.axisX, sy(v), '#000', 3, 'bar-y-tick');
    txt(g, c.axisX - 20, sy(v), c.tickFmt(v), {size: 30, weight: 'bold', anchor: 'end'}, 'bar-y-tick-label');
  });
  c.brackets.forEach(b => {
    line(g, sx(b[0]) + b[4], sy(b[2]), sx(b[1]) + b[5], sy(b[2]), '#000', 6, 'significance-line');
    const mid = (sx(b[0]) + b[4] + sx(b[1]) + b[5]) / 2;
    if (b[3] === 'ns') txt(g, mid, sy(b[2]) - 32, 'ns', {size: 33}, 'significance-label');
    else txt(g, mid, sy(b[2]) + 6, b[3], {size: 60, weight: 'bold', central: false}, 'significance-label');
  });
  txt(g, c.titleX, c.titleY, c.title, {size: 40, length: c.titleLen}, 'bar-chart-title');
  txt(g, c.yLabX, (sy(max) + c.y0) / 2, 'Relative expression', {size: 50, rotate: -90, length: 416}, 'bar-y-axis-title');
}
barPanel({name: 'bar-chart-dnah10', title: 'DNAH10', titleX: 4716, titleY: 205, titleLen: 163, y0: 686, ky: 143.8, axisX: 4449, axisEnd: 4988, xStart: 4570, xStep: 146.5, yLabX: 4373, mean: dnah10Mean, err: dnah10Err, ticks: dnah10Ticks, tickFmt: v => String(v), brackets: [[0,1,1.636,'ns',0,-2],[1,2,2.635,'*',5,2]]});
barPanel({name: 'bar-chart-kif22', title: 'KIF22', titleX: 4716, titleY: 1090, titleLen: 110, y0: 1570, ky: 86.2, axisX: 4449, axisEnd: 4988, xStart: 4570, xStep: 146.5, yLabX: 4373, mean: kif22Mean, err: kif22Err, ticks: kif22Ticks, tickFmt: v => String(v), brackets: [[0,1,1.595,'ns',0,-2],[1,2,4.17,'**',0,-3]]});
barPanel({name: 'bar-chart-kif23', title: 'KIF23', titleX: 4729, titleY: 2008, titleLen: 110, y0: 2514, ky: 216.6, axisX: 4466, axisEnd: 4995, xStart: 4586, xStep: 143.5, yLabX: 4360, mean: kif23Mean, err: kif23Err, ticks: kif23Ticks, tickFmt: v => v.toFixed(1), brackets: [[0,1,1.38,'*',-3,-4],[1,2,1.675,'*',-4,-1]]});
</script>
</body>
</html>
